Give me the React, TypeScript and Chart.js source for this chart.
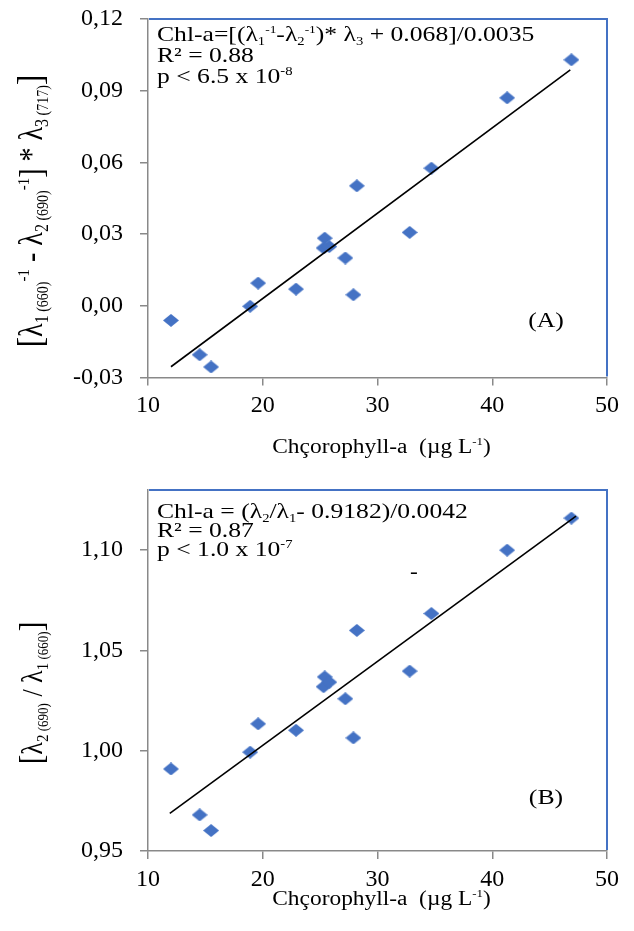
import React, { useEffect, useRef } from "react";
import { Chart, registerables } from "chart.js";

Chart.register(...registerables);

// ---------- data ----------
const chlA = [12.0, 14.5, 15.5, 18.9, 19.6, 22.9, 25.4, 25.3, 25.8, 27.2, 27.9, 28.2, 32.8, 34.7, 41.3, 46.9];
const indexA = [-0.0061, -0.0205, -0.0256, -0.0002, 0.0095, 0.007, 0.0283, 0.0242, 0.0248, 0.02, 0.0046, 0.0502, 0.0307, 0.0576, 0.087, 0.1029];
const indexB = [0.9909, 0.968, 0.9602, 0.9993, 1.0134, 1.0102, 1.0368, 1.0319, 1.0342, 1.0259, 1.0064, 1.06, 1.0397, 1.0684, 1.1, 1.116];
const trendXA = [12.0, 46.8];
const trendYA = [-0.0255, 0.0987];
const trendXB = [11.9, 47.3];
const trendYB = [0.9688, 1.117];
const xTickValues = [10, 20, 30, 40, 50];
const yTicksA = [-0.03, 0.0, 0.03, 0.06, 0.09, 0.12];
const yTicksB = [0.95, 1.0, 1.05, 1.1];
const xTitle = "Chçorophyll-a  (µg L";

// ---------- styling ----------
const FAMILY = "'Liberation Serif', 'Times New Roman', serif";
const STRETCH = 1.17;
const ANNOT_STRETCH = 1.22;
const BLUE = "#4472C4";
const GREY = "#898989";
const W = 634;

type Run = { t: string; s: number; dy?: number };

function runsWidth(ctx: CanvasRenderingContext2D, runs: Run[]) {
  let w = 0;
  for (const r of runs) {
    ctx.font = `${r.s}px ${FAMILY}`;
    w += ctx.measureText(r.t).width;
  }
  return w;
}

function drawRuns(ctx: CanvasRenderingContext2D, runs: Run[], x0: number) {
  let x = x0;
  for (const r of runs) {
    ctx.font = `${r.s}px ${FAMILY}`;
    ctx.fillText(r.t, x, r.dy || 0);
    x += ctx.measureText(r.t).width;
  }
}

function textAt(ctx: CanvasRenderingContext2D, runs: Run[], x: number, y: number, align: "left" | "center", sx = STRETCH) {
  ctx.save();
  ctx.translate(x, y);
  ctx.scale(sx, 1);
  ctx.fillStyle = "#000";
  ctx.textBaseline = "alphabetic";
  ctx.textAlign = "left";
  const w = runsWidth(ctx, runs);
  drawRuns(ctx, runs, align === "center" ? -w / 2 : 0);
  ctx.restore();
}

function textRotated(ctx: CanvasRenderingContext2D, runs: Run[], x: number, y: number) {
  ctx.save();
  ctx.translate(x, y);
  ctx.rotate(-Math.PI / 2);
  ctx.scale(1, STRETCH);
  ctx.fillStyle = "#000";
  ctx.textBaseline = "alphabetic";
  ctx.textAlign = "left";
  const w = runsWidth(ctx, runs);
  drawRuns(ctx, runs, -w / 2);
  ctx.restore();
}

function makeDiamond(w: number, h: number, color: string) {
  const c = document.createElement("canvas");
  c.width = w;
  c.height = h;
  const g = c.getContext("2d")!;
  g.fillStyle = color;
  g.beginPath();
  g.moveTo(w / 2, 0);
  g.lineTo(w, h / 2);
  g.lineTo(w / 2, h);
  g.lineTo(0, h / 2);
  g.closePath();
  g.fill();
  return c;
}

const sub = (t: string, s = 13, dy = 4): Run => ({ t, s, dy });
const sup = (t: string, s = 12, dy = -8): Run => ({ t, s, dy });

type PanelCfg = {
  height: number;
  area: { top: number; bottom: number; left: number; right: number };
  yMin: number;
  yMax: number;
  yTicks: number[];
  yVals: number[];
  trendX: number[];
  trendY: number[];
  annot: { runs: Run[]; y: number }[];
  annotX: number;
  label: string;
  labelPos: [number, number];
  yTitle: Run[];
  yTitlePos: [number, number];
  xTitleY: number;
  extra?: { t: string; x: number; y: number }[];
};

const panelA: PanelCfg = {
  height: 466,
  area: { top: 19, bottom: 377.5, left: 148, right: 607 },
  yMin: -0.03,
  yMax: 0.12,
  yTicks: yTicksA,
  yVals: indexA,
  trendX: trendXA,
  trendY: trendYA,
  annotX: 157,
  annot: [
    { y: 41, runs: [{ t: "Chl-a=[(λ", s: 21 }, sub("1", 12), sup("-1", 11), { t: "-λ", s: 21 }, sub("2", 12), sup("-1", 11), { t: ")* λ", s: 21 }, sub("3", 12), { t: " + 0.068]/0.0035", s: 21 }] },
    { y: 62, runs: [{ t: "R² = 0.88", s: 21 }] },
    { y: 83, runs: [{ t: "p < 6.5 x 10", s: 21 }, sup("-8", 12)] },
  ],
  label: "(A)",
  labelPos: [546, 327],
  yTitle: [
    { t: "[", s: 31 },
    { t: "λ", s: 28 },
    sub("1", 16, 5),
    sub(" (660)", 14, 5),
    sup("-1", 15, -11),
    { t: " - ", s: 28 },
    { t: "λ", s: 28 },
    sub("2", 16, 5),
    sub(" (690)", 14, 5),
    sup("-1", 15, -11),
    { t: "] * ", s: 28 },
    { t: "λ", s: 28 },
    sub("3", 16, 5),
    sub(" (717)", 14, 5),
    { t: "]", s: 31 },
  ],
  yTitlePos: [42, 211],
  xTitleY: 453,
};

const panelB: PanelCfg = {
  height: 465,
  area: { top: 24, bottom: 385, left: 148, right: 607 },
  yMin: 0.95,
  yMax: 1.13,
  yTicks: yTicksB,
  yVals: indexB,
  trendX: trendXB,
  trendY: trendYB,
  annotX: 157,
  annot: [
    { y: 52, runs: [{ t: "Chl-a = (λ", s: 21 }, sub("2", 12), { t: "/λ", s: 21 }, sub("1", 12), { t: "- 0.9182)/0.0042", s: 21 }] },
    { y: 71, runs: [{ t: "R² = 0.87", s: 21 }] },
    { y: 90, runs: [{ t: "p < 1.0 x 10", s: 21 }, sup("-7", 12)] },
  ],
  label: "(B)",
  labelPos: [546, 338],
  yTitle: [
    { t: "[", s: 29 },
    { t: "λ", s: 26 },
    sub("2", 15, 5),
    sub(" (690)", 13, 5),
    { t: " / ", s: 26 },
    { t: "λ", s: 26 },
    sub("1", 15, 5),
    sub(" (660)", 13, 5),
    { t: "]", s: 29 },
  ],
  yTitlePos: [42, 227],
  xTitleY: 439,
  extra: [{ t: "-", x: 414, y: 112 }],
};

function Panel({ cfg }: { cfg: PanelCfg }) {
  const ref = useRef<HTMLCanvasElement | null>(null);
  useEffect(() => {
    if (!ref.current) return;
    const diamond = makeDiamond(16, 13, BLUE);
    const decor = {
      id: "decor",
      afterDraw(chart: any) {
        const ctx: CanvasRenderingContext2D = chart.ctx;
        const a = chart.chartArea;
        ctx.save();
        ctx.strokeStyle = BLUE;
        ctx.lineWidth = 2;
        ctx.beginPath();
        ctx.moveTo(a.left + 1, a.top);
        ctx.lineTo(a.right, a.top);
        ctx.lineTo(a.right, a.bottom - 1);
        ctx.stroke();
        ctx.restore();
        for (const l of cfg.annot) textAt(ctx, l.runs, cfg.annotX, l.y, "left", ANNOT_STRETCH);
        textAt(ctx, [{ t: cfg.label, s: 22 }], cfg.labelPos[0], cfg.labelPos[1], "center");
        textRotated(ctx, cfg.yTitle, cfg.yTitlePos[0], cfg.yTitlePos[1]);
        textAt(ctx, [{ t: xTitle, s: 20 }, sup("-1", 11), { t: ")", s: 20 }], (a.left + a.right) / 2 + 4, cfg.xTitleY, "center");
        for (const e of cfg.extra || []) textAt(ctx, [{ t: e.t, s: 20 }], e.x, e.y, "center");
      },
    };
    const chart = new Chart(ref.current, {
      type: "scatter",
      data: {
        datasets: [
          {
            type: "scatter",
            data: cfg.trendX.map((x, i) => ({ x, y: cfg.trendY[i] })),
            showLine: true,
            borderColor: "#000",
            borderWidth: 1.6,
            pointRadius: 0,
            fill: false,
          } as any,
          {
            data: chlA.map((x, i) => ({ x, y: cfg.yVals[i] })),
            pointStyle: diamond as any,
            pointRadius: 7,
            backgroundColor: BLUE,
            borderColor: BLUE,
          },
        ],
      },
      plugins: [decor],
      options: {
        animation: false,
        responsive: false,
        events: [],
        layout: {
          autoPadding: false,
          padding: { top: cfg.area.top, left: 0, right: W - cfg.area.right, bottom: 0 },
        },
        plugins: { legend: { display: false }, tooltip: { enabled: false } },
        scales: {
          x: {
            type: "linear",
            min: 10,
            max: 50,
            afterBuildTicks: (axis: any) => {
              axis.ticks = xTickValues.map((v) => ({ value: v }));
            },
            afterFit: (s: any) => {
              s.height = cfg.height - cfg.area.bottom;
              s.paddingLeft = 0;
              s.paddingRight = 0;
              s.paddingTop = 0;
              s.paddingBottom = 0;
            },
            grid: { display: true, drawOnChartArea: false, drawTicks: true, tickLength: 8, color: GREY, lineWidth: 1.5 },
            border: { display: true, color: GREY, width: 1.5 },
            ticks: {
              color: "#000",
              font: { family: FAMILY, size: 24 },
              padding: 6,
              maxRotation: 0,
              callback: (v: any) => String(v),
            },
          },
          y: {
            type: "linear",
            min: cfg.yMin,
            max: cfg.yMax,
            afterBuildTicks: (axis: any) => {
              axis.ticks = cfg.yTicks.map((v) => ({ value: v }));
            },
            afterFit: (s: any) => {
              s.width = cfg.area.left;
              s.paddingTop = 0;
              s.paddingBottom = 0;
              s.paddingLeft = 0;
              s.paddingRight = 0;
            },
            grid: { display: true, drawOnChartArea: false, drawTicks: true, tickLength: 8, color: GREY, lineWidth: 1.5 },
            border: { display: true, color: GREY, width: 1.5 },
            ticks: {
              color: "#000",
              font: { family: FAMILY, size: 24 },
              padding: 17,
              callback: (v: any) => Number(v).toFixed(2).replace(".", ","),
            },
          },
        },
      } as any,
    });
    return () => chart.destroy();
  }, [cfg]);
  return <canvas ref={ref} width={W} height={cfg.height} style={{ display: "block", width: W, height: cfg.height }} />;
}

export default function App() {
  return (
    <div style={{ position: "absolute", left: 0, top: 0, width: W, height: 931, background: "#fff" }}>
      <Panel cfg={panelA} />
      <Panel cfg={panelB} />
    </div>
  );
}
